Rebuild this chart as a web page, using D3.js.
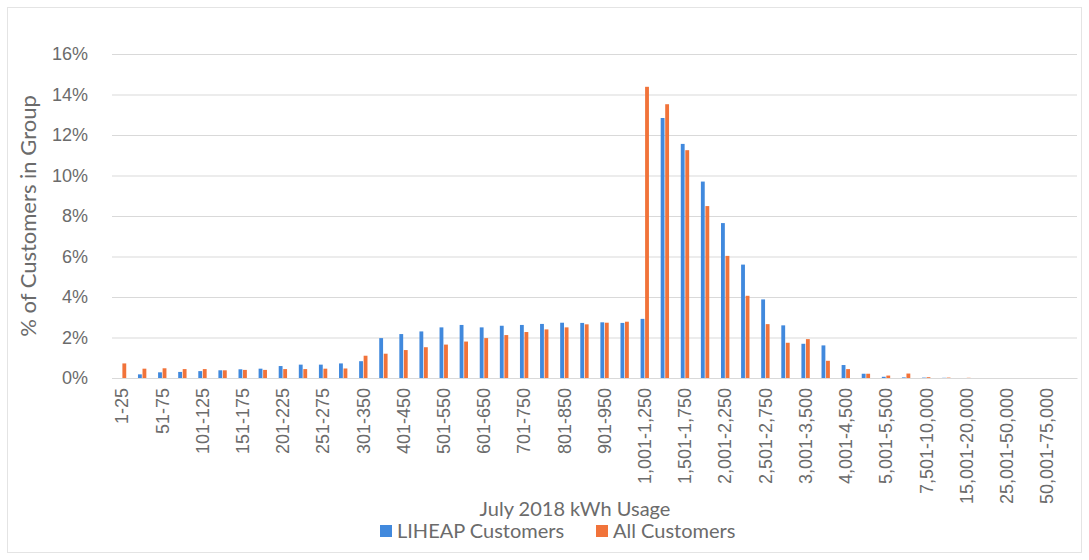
<!DOCTYPE html>
<html>
<head>
<meta charset="utf-8">
<script src="https://cdn.jsdelivr.net/npm/d3@7"></script>
<style>
  body { margin: 0; background: #fff; }
  svg { font-family: "Lato", "Open Sans", sans-serif; }
</style>
</head>
<body>
<div id="chart"></div>
<script>
// usage buckets (kWh), only every other one gets a label on the axis
var categories = [
  "1-25", "26-50", "51-75", "76-100", "101-125", "126-150", "151-175", "176-200",
  "201-225", "226-250", "251-275", "276-300", "301-350", "351-400", "401-450", "451-500",
  "501-550", "551-600", "601-650", "651-700", "701-750", "751-800", "801-850", "851-900",
  "901-950", "951-1,000", "1,001-1,250", "1,251-1,500", "1,501-1,750", "1,751-2,000",
  "2,001-2,250", "2,251-2,500", "2,501-2,750", "2,751-3,000", "3,001-3,500", "3,501-4,000",
  "4,001-4,500", "4,501-5,000", "5,001-5,500", "5,501-7,500", "7,501-10,000",
  "10,001-15,000", "15,001-20,000", "20,001-25,000", "25,001-50,000", "35,001-50,000",
  "50,001-75,000", "75,001+"
];

// % of customers in group
var liheap = [
  0, 0.18, 0.28, 0.3, 0.34, 0.38, 0.43, 0.46, 0.59, 0.66, 0.66, 0.72,
  0.83, 1.97, 2.17, 2.3, 2.5, 2.62, 2.5, 2.58, 2.62, 2.67, 2.73, 2.72,
  2.75, 2.72, 2.92, 12.84, 11.56, 9.7, 7.65, 5.6, 3.88, 2.6, 1.69, 1.61,
  0.64, 0.21, 0.06, 0.03, 0.02, 0.01, 0, 0, 0, 0, 0, 0
];
var allCustomers = [
  0.72, 0.46, 0.48, 0.44, 0.44, 0.38, 0.4, 0.4, 0.44, 0.44, 0.46, 0.47,
  1.1, 1.2, 1.38, 1.52, 1.65, 1.8, 1.97, 2.12, 2.27, 2.4, 2.5, 2.65,
  2.73, 2.78, 14.38, 13.52, 11.25, 8.49, 6.03, 4.06, 2.66, 1.74, 1.92, 0.85,
  0.44, 0.21, 0.12, 0.22, 0.04, 0.02, 0.01, 0, 0, 0, 0, 0
];

var yTicks = [0, 2, 4, 6, 8, 10, 12, 14, 16];
var seriesNames = ["LIHEAP Customers", "All Customers"];
var seriesColors = ["#4189dd", "#f1733a"];

function init() {
  var w = 1089;
  var h = 560;
  var left = 112, right = 1077, top = 54, bottom = 378;

  var svg = d3.select("#chart").append("svg")
    .attr("width", w)
    .attr("height", h);

  //faint chart border
  svg.append("rect")
    .attr("x", 7.5).attr("y", 7.5)
    .attr("width", w - 15).attr("height", h - 15)
    .attr("fill", "none")
    .attr("stroke", "#e4e4e4");

  var xScale = d3.scaleBand().domain(categories).range([left, right]);
  var seriesScale = d3.scaleBand().domain(seriesNames)
    .range([0, xScale.bandwidth()]).paddingOuter(1.3).paddingInner(0.15);
  var yScale = d3.scaleLinear().domain([0, 16]).range([bottom, top]);

  //gridlines + y labels
  var yAxis = d3.axisLeft(yScale)
    .tickValues(yTicks)
    .tickSize(-(right - left))
    .tickPadding(24)
    .tickFormat(function (d) { return d + "%"; });

  var gy = svg.append("g")
    .attr("transform", "translate(" + left + ",0)")
    .call(yAxis);
  gy.select(".domain").remove();
  gy.selectAll("line").attr("stroke", "#d9d9d9");
  gy.selectAll("text")
    .attr("fill", "#6b6b6b")
    .style("font-size", "18px");

  //bars
  var rows = categories.map(function (c, i) {
    return { cat: c, values: [liheap[i], allCustomers[i]] };
  });

  var groups = svg.selectAll(".cat")
    .data(rows)
    .enter()
    .append("g")
    .attr("class", "cat")
    .attr("transform", function (d) { return "translate(" + xScale(d.cat) + ",0)"; });

  groups.selectAll("rect")
    .data(function (d) {
      return d.values.map(function (v, j) { return { name: seriesNames[j], v: v, j: j }; });
    })
    .enter()
    .append("rect")
    .attr("x", function (d) { return seriesScale(d.name); })
    .attr("width", seriesScale.bandwidth())
    .attr("y", function (d) { return yScale(d.v); })
    .attr("height", function (d) { return bottom - yScale(d.v); })
    .attr("fill", function (d) { return seriesColors[d.j]; });

  //x axis, every other label
  var xAxis = d3.axisBottom(xScale)
    .tickValues(categories.filter(function (d, i) { return i % 2 === 0; }))
    .tickSize(0)
    .tickPadding(0);

  var gx = svg.append("g")
    .attr("transform", "translate(0," + bottom + ")")
    .call(xAxis);
  gx.select(".domain").attr("stroke", "#d9d9d9");
  gx.selectAll("text")
    .attr("transform", "rotate(-90)")
    .attr("text-anchor", "end")
    .attr("x", -10)
    .attr("y", 0)
    .attr("dy", "0.35em")
    .attr("fill", "#6b6b6b")
    .style("font-size", "18px");

  //axis titles
  svg.append("text")
    .attr("transform", "rotate(-90)")
    .attr("x", -216)
    .attr("y", 36)
    .attr("text-anchor", "middle")
    .attr("fill", "#6b6b6b")
    .style("font-size", "22px")
    .text("% of Customers in Group");

  svg.append("text")
    .attr("x", 575)
    .attr("y", 516)
    .attr("text-anchor", "middle")
    .attr("fill", "#6b6b6b")
    .style("font-size", "20px")
    .text("July 2018 kWh Usage");

  //legend
  var legendX = [380, 596];
  var legend = svg.selectAll(".legend")
    .data(seriesNames)
    .enter()
    .append("g")
    .attr("class", "legend")
    .attr("transform", function (d, i) { return "translate(" + legendX[i] + ",531)"; });

  legend.append("rect")
    .attr("x", 0).attr("y", -6)
    .attr("width", 12).attr("height", 12)
    .attr("fill", function (d, i) { return seriesColors[i]; });

  legend.append("text")
    .attr("x", 17)
    .attr("y", 0)
    .attr("dy", "0.35em")
    .attr("fill", "#6b6b6b")
    .style("font-size", "20px")
    .text(function (d) { return d; });
}

window.onload = init;
</script>
</body>
</html>
